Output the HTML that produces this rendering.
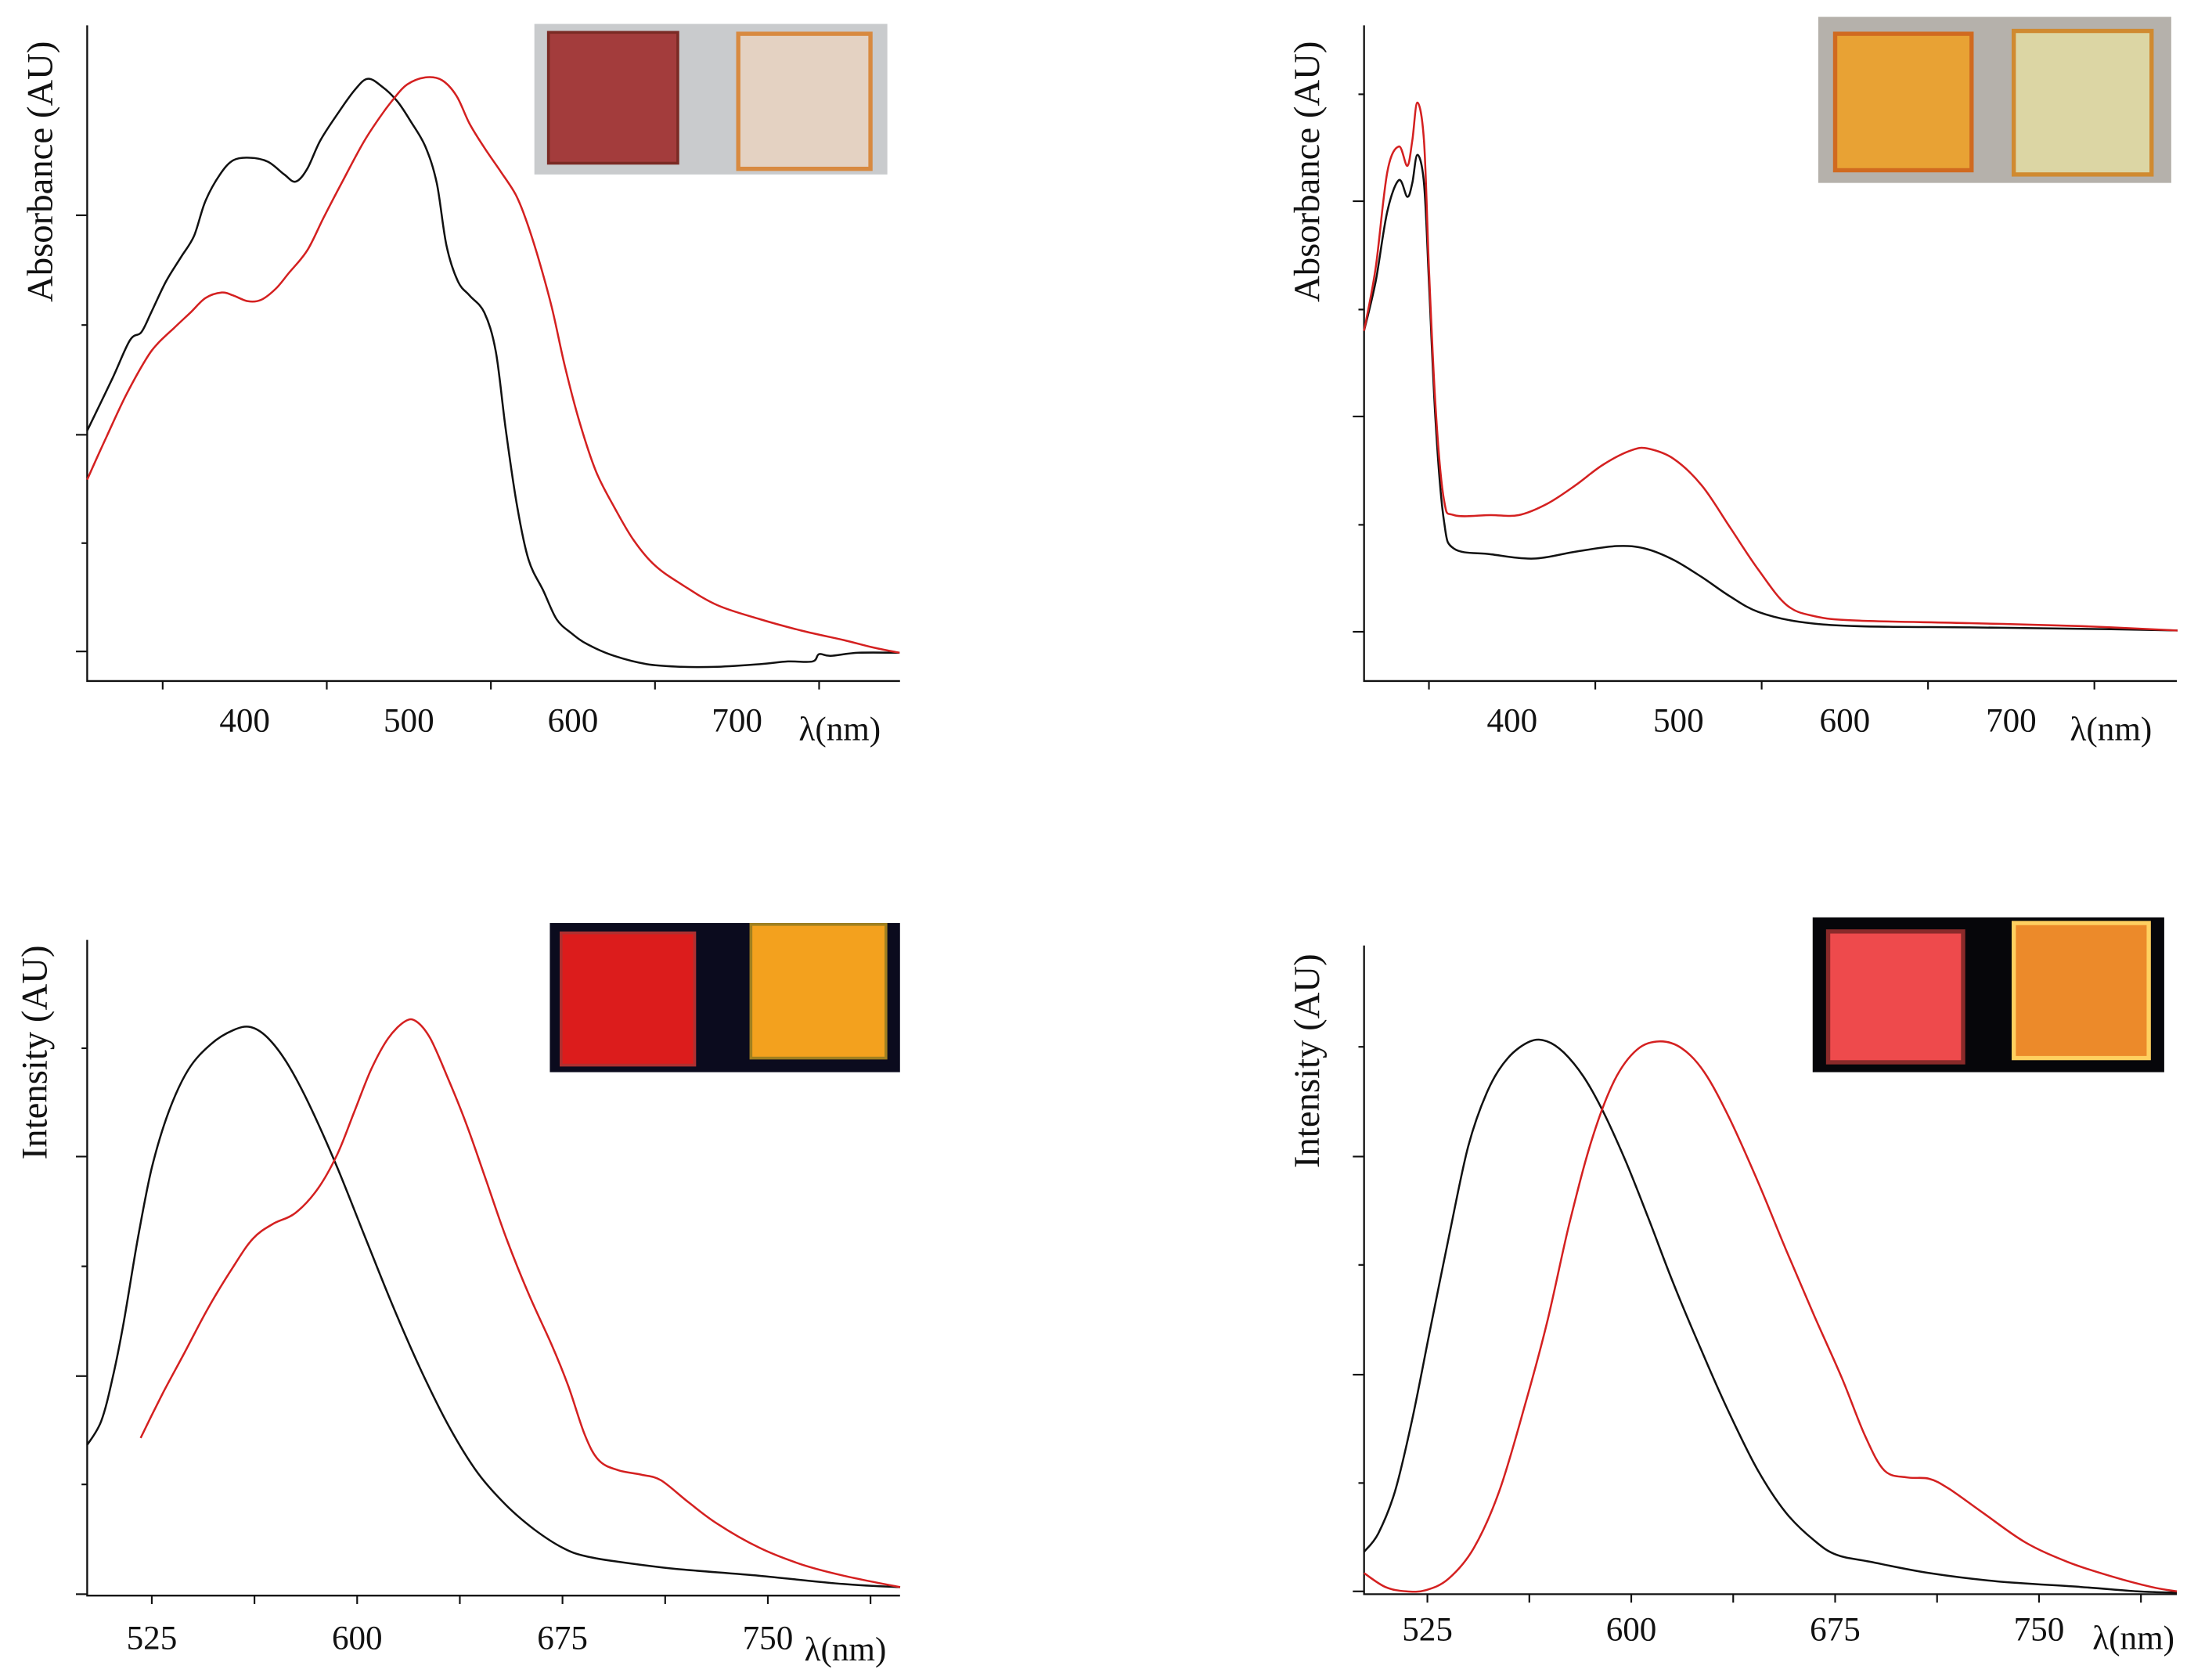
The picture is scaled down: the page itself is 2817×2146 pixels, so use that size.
<!DOCTYPE html>
<html><head><meta charset="utf-8"><style>
html,body{margin:0;padding:0;background:#fff;}
svg{display:block;}
text{font-family:"Liberation Serif",serif;fill:#111;}
</style></head><body>
<svg id="fig" width="2817" height="2146" viewBox="0 0 1568 1194" preserveAspectRatio="none" xmlns="http://www.w3.org/2000/svg">
<g>
<rect x="380" y="17" width="251" height="107" fill="#c9cbcd"/>
<rect x="390" y="23" width="92" height="93" fill="#a33c3c" stroke="#7a2a24" stroke-width="2"/>
<rect x="525" y="24" width="94" height="96" fill="#e4d2c2" stroke="#d88a40" stroke-width="3"/>
</g>
<g>
<rect x="1293" y="12" width="251" height="118" fill="#b5b1ab"/>
<rect x="1305" y="24" width="97" height="97" fill="#e8a234" stroke="#d06a20" stroke-width="3"/>
<rect x="1432" y="22" width="98" height="102" fill="#dcd6a4" stroke="#d08a30" stroke-width="3"/>
</g>
<g>
<rect x="391" y="656" width="249" height="106" fill="#0b0b1e"/>
<rect x="399" y="663" width="95" height="94" fill="#dc1c1c" stroke="#b03030" stroke-width="2"/>
<rect x="534" y="657" width="96" height="95" fill="#f3a11e" stroke="#a08020" stroke-width="2"/>
</g>
<g>
<rect x="1289" y="652" width="250" height="110" fill="#06060a"/>
<rect x="1300" y="662" width="96" height="93" fill="#ee4a4c" stroke="#8a2a2a" stroke-width="3"/>
<rect x="1432" y="656" width="96" height="96" fill="#ec8a2a" stroke="#ffd060" stroke-width="3"/>
</g>
</svg>
<script>
// Panel A (absorbance)
const aWl=[304,319,330,337,343,352,361,369,376,385,393,403,414,424,431,438,446,457,467,475,484,493,501,510,517,523,530,537,546,553,559,566,573,582,590,599,609,625,645,666,688,714,731,746,750,757,774,799];
const aBlack=[50.6,62.3,71.3,73.2,77.7,84.8,90.3,95.2,103.2,109.4,112.6,113.2,112.3,109.4,107.7,110.6,117.1,123.5,128.7,131.3,129.4,126.1,121.6,115.8,107.4,92.9,84.8,81.6,77.7,68.7,51,33.2,21,13.9,7.4,4.2,1.6,-1,-2.9,-3.5,-3.5,-2.9,-2.3,-2.3,-0.6,-1,-0.3,-0.3];
const aRedWl=[304,316,328,340,347,357,367,376,386,393,402,410,419,427,438,448,460,472,482,491,499,510,520,529,537,546,556,565,571,578,587,595,604,614,625,637,650,667,688,714,739,765,782,799];
const aRed=[39.4,49.4,59,67.1,70.6,74.2,77.7,81,82.3,81.6,80.3,80.6,83.2,86.8,91.9,99.4,108.1,116.5,122.3,126.8,130,131.6,131,127.4,121,115.5,110,104.8,99.4,91.3,79,65.5,52.6,41.3,33.2,25.5,19.7,15.2,10.6,7.4,4.8,2.6,1,-0.3];
const aTicks=[400,500,600,700];
// Panel B (absorbance)
const bWl=[311,318,325,332,337,340,343,347,350,354,359,365,387,413,438,463,480,497,514,531,548,573,607,675,742,800];
const bBlack=[69.9,81.4,97.7,104.9,101,104.2,110.8,104.2,81.4,48.7,25.8,19.3,18,17,18.6,19.9,19.3,16.7,12.7,8.2,4.6,2.3,1.3,1,0.7,0.3];
const bRedWl=[311,318,325,332,337,340,343,347,350,354,359,365,387,404,421,438,455,472,482,497,514,531,548,565,582,607,675,742,800];
const bRed=[69.9,84.6,106.9,112.7,108.2,114.1,122.9,114.1,84.6,52,30.7,27.1,27.1,27.1,29.7,34,38.9,42.2,42.5,40.2,34,24.2,14.4,6.2,3.6,2.6,2,1.3,0.3];
const bTicks=[400,500,600,700];
// Panel C (emission)
const cWl=[501.4,506.5,510.6,514.7,519.9,525,531.2,538.4,546.6,554.8,561,567.1,574.3,582.5,592.8,603.1,613.4,623.6,633.9,644.2,654.5,664.7,675,683.2,695.5,716.1,746.9,777.7,798.3];
const cBlack=[34.1,39.5,49.2,62,81.3,97.4,110.3,119.9,125.7,128.9,129.6,127.3,121.5,111.9,97.4,81.3,65.3,50.8,37.9,27.6,20.3,14.8,10.6,8.7,7.4,5.8,4.2,2.3,1.6];
const cRedWl=[520.9,529.1,537.3,545.5,554.8,562,569.2,577.4,585.6,592.8,599,605.1,611.3,617.5,621.6,626.7,632.9,640.1,647.3,654.5,662.7,670.9,677.1,683.2,688.4,695.5,703.8,711,721.2,731.5,746.9,762.3,777.7,798.3];
const cRed=[35.7,46,55.6,65.3,74.9,81.3,84.6,87.1,92.6,100.6,110.3,119.9,127,130.9,130.9,127,118.3,107.1,94.2,81.3,68.5,57.2,47.6,36.3,30.5,28.3,27.3,26,20.9,16.1,10.6,6.8,4.2,1.6];
const cTicks=[525,600,675,750];
// Panel D (emission)
const dWl=[501.7,506.9,513.1,519.3,525.5,532.8,540,547.2,554.5,562.8,569,575.2,582.4,589.7,597.9,606.2,615.5,625.9,636.2,646.6,656.9,667.3,675.5,688,709.6,734.5,765.5,786.2,800.7];
const dBlack=[9.1,13.3,23,39.2,58.6,81.2,102.3,115.2,122.6,126.5,126.5,123.9,118.4,110.3,99,86,70.8,55.3,40.8,27.8,18.1,11.7,8.4,6.8,4.2,2.3,1,0,-0.3];
const dRedWl=[501.7,509.5,517.2,524.5,532.8,542.1,551.4,560.7,569,577.2,585.5,593.8,602.1,610.4,618.6,626.9,636.2,646.6,656.9,667.3,677.6,685.9,693.1,701.4,709.6,716.9,729.3,744.9,760.4,775.9,791.4,800.7];
const dRed=[4.2,1,0,0.3,2.9,10,23,42.4,61.8,84.5,103.9,117.5,124.6,126.5,124.9,119.4,108.7,94.2,78.6,63.4,48.9,35.9,27.8,26.2,25.9,23.6,18.1,11.3,6.8,3.6,1,0];
const dTicks=[525,600,675,750];

const NS='http://www.w3.org/2000/svg';
const svg=document.getElementById('fig');
function mk(tag,attrs,parent){const e=document.createElementNS(NS,tag);for(const k in attrs)e.setAttribute(k,attrs[k]);(parent||svg).appendChild(e);return e;}
function smooth(pts){
  let d='M'+pts[0][0].toFixed(1)+','+pts[0][1].toFixed(1);
  for(let i=0;i<pts.length-1;i++){
    const p0=pts[i-1]||pts[i],p1=pts[i],p2=pts[i+1],p3=pts[i+2]||p2;
    const c1=[p1[0]+(p2[0]-p0[0])/6,p1[1]+(p2[1]-p0[1])/6];
    const c2=[p2[0]-(p3[0]-p1[0])/6,p2[1]-(p3[1]-p1[1])/6];
    d+=' C'+c1[0].toFixed(1)+','+c1[1].toFixed(1)+' '+c2[0].toFixed(1)+','+c2[1].toFixed(1)+' '+p2[0].toFixed(1)+','+p2[1].toFixed(1);
  }
  return d;
}

function panel(id,cfg){
  const g=mk('g',{});
  
  
  const sx=w=>cfg.x0+(w-cfg.w0)*cfg.kx;
  const sy=v=>cfg.base-v*cfg.ky;
  const ax=mk('path',{d:`M${cfg.x0},${cfg.top} L${cfg.x0},${cfg.bottom} L${cfg.right},${cfg.bottom}`,fill:'none',stroke:'#111','stroke-width':1.3},g);
  
  
  cfg.yMajor.forEach(yy=>{const t=mk('line',{x1:cfg.x0-8,x2:cfg.x0,y1:yy,y2:yy,stroke:'#111','stroke-width':1.2},g);
    
    });
  cfg.yMinor.forEach(yy=>{const t=mk('line',{x1:cfg.x0-4,x2:cfg.x0,y1:yy,y2:yy,stroke:'#111','stroke-width':1.2},g);
    
    });
  for(let w=cfg.tickStart;w<=cfg.tickEnd;w+=cfg.tickStep){
    const t=mk('line',{x1:sx(w),x2:sx(w),y1:cfg.bottom,y2:cfg.bottom+6,stroke:'#111','stroke-width':1.2},g);
    
    
  }
  cfg.ticks.forEach(w=>{
    const t=mk('text',{x:sx(w),y:cfg.labelY,'text-anchor':'middle','font-size':24},g);
    t.textContent=String(w);
    
    
  });
  const xl=mk('text',{x:cfg.xlabX,y:cfg.xlabY,'font-size':24},g);
  xl.textContent='λ(nm)';
  
  
  const yl=mk('text',{x:0,y:0,'text-anchor':'middle','font-size':26,transform:`translate(${cfg.ylabX},${cfg.ylabY}) rotate(-90)`},g);
  yl.textContent=cfg.ytitle;
  
  
  [[cfg.bw,cfg.bv,'#111','black-spectrum'],[cfg.rw,cfg.rv,'#d42020','red-spectrum']].forEach(([ws,vs,col,nm])=>{
    const pts=ws.map((w,i)=>[sx(w),sy(vs[i])]);
    const p=mk('path',{d:smooth(pts),fill:'none',stroke:col,'stroke-width':1.4,'stroke-linejoin':'round'},g);
    
    
  });
}
panel('absorbance-a',{x0:62,top:18,bottom:484,right:640,w0:304,kx:1.167,base:463,ky:3.10,
  yMajor:[153,309,463],yMinor:[231,386],tickStart:350,tickEnd:750,tickStep:100,ticks:aTicks,labelY:520,xlabX:568,xlabY:526,
  ytitle:'Absorbance (AU)',ylabX:37,ylabY:122,bw:aWl,bv:aBlack,rw:aRedWl,rv:aRed});
panel('absorbance-b',{x0:970,top:18,bottom:484,right:1548,w0:311,kx:1.183,base:449,ky:3.06,
  yMajor:[143,296,449],yMinor:[67,220,373],tickStart:350,tickEnd:750,tickStep:100,ticks:bTicks,labelY:520,xlabX:1472,xlabY:526,
  ytitle:'Absorbance (AU)',ylabX:938,ylabY:122,bw:bWl,bv:bBlack,rw:bRedWl,rv:bRed});
panel('emission-a',{x0:62,top:668,bottom:1134,right:640,w0:501.4,kx:1.947,base:1133,ky:3.11,
  yMajor:[822,978,1133],yMinor:[745,900,1055],tickStart:525,tickEnd:790,tickStep:37.5,ticks:cTicks,labelY:1172,xlabX:572,xlabY:1180,
  ytitle:'Intensity (AU)',ylabX:33,ylabY:748,bw:cWl,bv:cBlack,rw:cRedWl,rv:cRed});
panel('emission-b',{x0:970,top:672,bottom:1133,right:1548,w0:501.7,kx:1.933,base:1131,ky:3.09,
  yMajor:[822,977,1131],yMinor:[744,899,1054],tickStart:525,tickEnd:800,tickStep:37.5,ticks:dTicks,labelY:1166,xlabX:1488,xlabY:1172,
  ytitle:'Intensity (AU)',ylabX:938,ylabY:754,bw:dWl,bv:dBlack,rw:dRedWl,rv:dRed});
</script>
</body></html>
